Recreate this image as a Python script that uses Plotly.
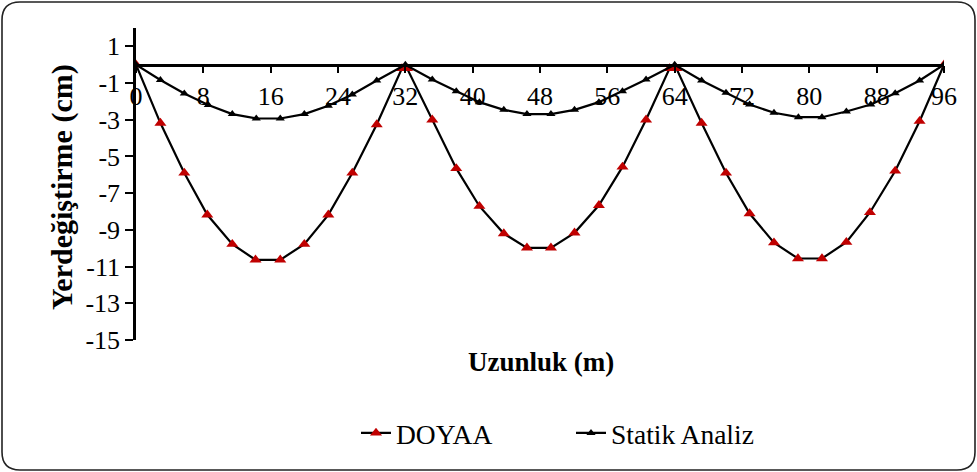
import plotly.graph_objects as go

# ---- data ----
doyaa_x = [0, 2.9, 5.74, 8.47, 11.44, 14.2, 17.14, 20.0, 22.85, 25.7, 28.6, 31.6,
           32.2, 35.2, 38.05, 40.8, 43.7, 46.45, 49.3, 52.1, 55.0, 57.8, 60.6, 63.4,
           64.2, 67.2, 70.1, 72.9, 75.8, 78.65, 81.5, 84.4, 87.2, 90.2, 93.1, 96]
doyaa_y = [0, -3.18, -5.9, -8.18, -9.78, -10.63, -10.63, -9.78, -8.18, -5.9, -3.26, -0.2,
           -0.2, -3.0, -5.65, -7.71, -9.2, -9.98, -9.98, -9.16, -7.66, -5.57, -3.0, -0.2,
           -0.2, -3.18, -5.9, -8.11, -9.7, -10.56, -10.56, -9.67, -8.05, -5.79, -3.08, 0]

statik_x = [0, 2.9, 5.74, 8.59, 11.44, 14.29, 17.14, 20.0, 22.85, 25.7, 28.6, 32,
            35.2, 38.05, 40.8, 43.7, 46.45, 49.3, 52.1, 55.0, 57.8, 60.6, 64,
            67.2, 70.1, 72.9, 75.8, 78.7, 81.5, 84.4, 87.3, 90.2, 93.1, 96]
statik_y = [0, -0.83, -1.57, -2.2, -2.69, -2.93, -2.93, -2.69, -2.24, -1.62, -0.86, 0,
            -0.81, -1.44, -2.04, -2.46, -2.69, -2.69, -2.46, -2.04, -1.44, -0.81, 0,
            -0.86, -1.53, -2.17, -2.62, -2.86, -2.86, -2.55, -2.17, -1.55, -0.86, 0]

x_ticks = [0, 8, 16, 24, 32, 40, 48, 56, 64, 72, 80, 88, 96]
y_ticks = [1, -1, -3, -5, -7, -9, -11, -13, -15]
y_tick_text = ["1", "-1", "-3", "-5", "-7", "-9", "-11", "-13", "-15"]

series_names = ["DOYAA", "Statik Analiz"]
x_title = "Uzunluk (m)"
y_title = "Yerdeğiştirme (cm)"

# ---- layout geometry ----
W, H = 977, 472
L, R, T, B = 136, 33, 28, 132
pw, ph = W - L - R, H - T - B
FONT = "Liberation Serif, Times New Roman, serif"


def px(x, y):
    return (x - L) / pw, (H - B - y) / ph


fig = go.Figure()
fig.add_trace(go.Scatter(
    x=doyaa_x, y=doyaa_y, mode="lines+markers", name=series_names[0],
    line=dict(color="black", width=2.2),
    marker=dict(symbol="triangle-up", size=10.5, color="#C00000"),
))
fig.add_trace(go.Scatter(
    x=statik_x, y=statik_y, mode="lines+markers", name=series_names[1],
    line=dict(color="black", width=2.2),
    marker=dict(symbol="triangle-up", size=8, color="black"),
))

# rounded border
x0, y0 = px(2, 470)
x1, y1 = px(975, 2)
rx, ry = 18 / pw, 18 / ph
path = (f"M {x0+rx},{y0} L {x1-rx},{y0} Q {x1},{y0} {x1},{y0+ry} "
        f"L {x1},{y1-ry} Q {x1},{y1} {x1-rx},{y1} L {x0+rx},{y1} "
        f"Q {x0},{y1} {x0},{y1-ry} L {x0},{y0+ry} Q {x0},{y0} {x0+rx},{y0} Z")
fig.add_shape(type="path", path=path, xref="paper", yref="paper",
              line=dict(color="#222222", width=1.6), layer="below")

xt_x, xt_y = px(541, 362)
yt_x, yt_y = px(62, 187)
fig.add_annotation(text=f"<b>{x_title}</b>", x=xt_x, y=xt_y, xref="paper", yref="paper",
                   showarrow=False, xanchor="center", yanchor="middle",
                   font=dict(family=FONT, size=27, color="black"))
fig.add_annotation(text=f"<b>{y_title}</b>", x=yt_x, y=yt_y, xref="paper", yref="paper",
                   showarrow=False, xanchor="center", yanchor="middle", textangle=-90,
                   font=dict(family=FONT, size=30, color="black"))

lg_x, lg_y = px(356, 433)
fig.update_layout(
    width=W, height=H,
    margin=dict(l=L, r=R, t=T, b=B, pad=0, autoexpand=False),
    paper_bgcolor="white", plot_bgcolor="white",
    font=dict(family=FONT, size=26, color="black"),
    showlegend=True,
    legend=dict(orientation="h", x=lg_x, xanchor="left", y=lg_y, yanchor="middle",
                entrywidth=170, entrywidthmode="pixels",
                font=dict(family=FONT, size=27.5, color="black"), bgcolor="rgba(0,0,0,0)"),
    xaxis=dict(range=[0, 96], anchor="free", position=15 / 17,
               showline=True, linecolor="black", linewidth=2.5,
               ticks="outside", ticklen=7, tickwidth=2, tickcolor="black",
               tickvals=x_ticks, ticktext=[str(v) for v in x_ticks],
               tickfont=dict(family=FONT, size=26, color="black"),
               ticklabelstandoff=0,
               showgrid=False, zeroline=False),
    yaxis=dict(range=[-15, 2], showline=True, linecolor="black", linewidth=2.5,
               ticks="outside", ticklen=8, tickwidth=2, tickcolor="black",
               tickvals=y_ticks, ticktext=y_tick_text,
               tickfont=dict(family=FONT, size=26, color="black"),
               showgrid=False, zeroline=False),
)

fig.write_html("out.html", config={"displayModeBar": False},
               post_script="document.body.style.margin='0';document.body.style.padding='0';")
